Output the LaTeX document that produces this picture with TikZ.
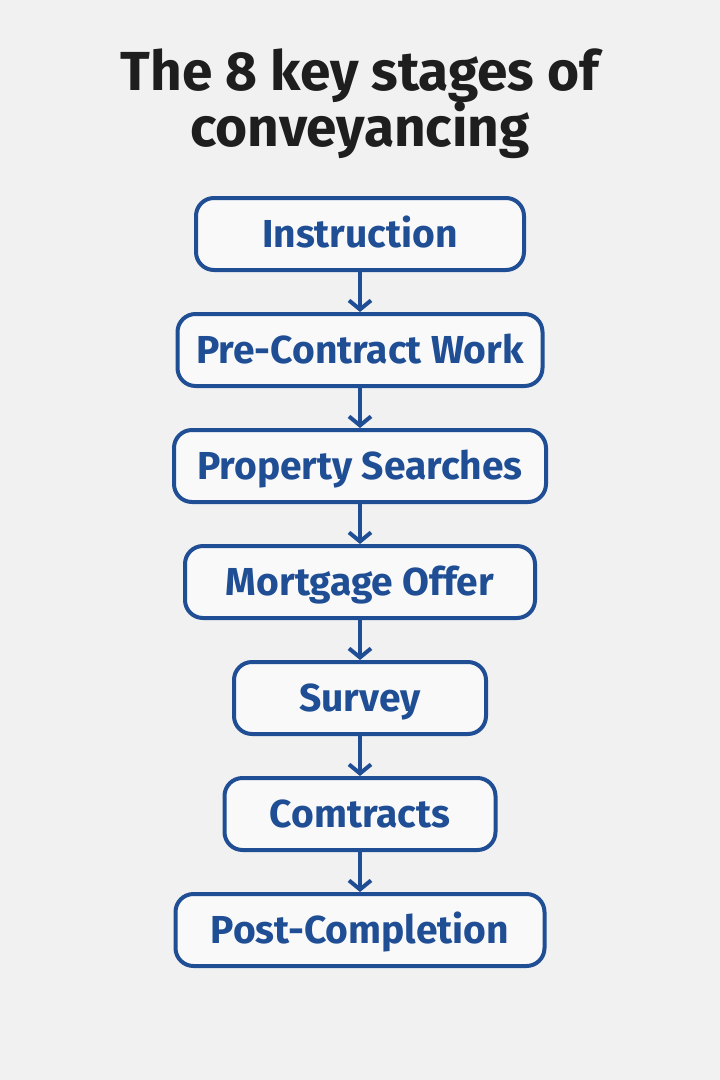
\documentclass[tikz,border=0pt]{standalone}
\usepackage{fontspec}
\setmainfont{Fira Sans}
\usepackage{tikz}
\usetikzlibrary{arrows.meta,positioning}

\definecolor{stageblue}{HTML}{1F4E95}
\definecolor{paper}{HTML}{F1F1F1}
\definecolor{ink}{HTML}{1E1E1E}

\tikzset{
  stage/.style={draw=stageblue, line width=4pt, rounded corners=18pt,
    fill=white!60!paper, text=stageblue, minimum height=72pt,
    text height=27pt, text depth=0pt,
    font=\fontsize{39}{43}\selectfont\bfseries},
  flow/.style={draw=stageblue, line width=4pt,
    -{Straight Barb[length=9pt,width=22pt,line width=4pt]}},
  heading/.style={text=ink, anchor=base, font=\fontsize{55}{60}\selectfont\bfseries}
}

\begin{document}
\begin{tikzpicture}[x=1pt,y=1pt,node distance=40pt]
  \useasboundingbox[fill=paper] (0,0) rectangle (720,-1080);
  % title
  \node[heading] (title1) at (360,-90) {The 8 key stages of};
  \node[heading] (title2) at (360,-146) {conveyancing};
  % stages
  \node[stage, minimum width=328pt] (instr) at (360,-234) {Instruction};
  \node[stage, minimum width=365pt, below=of instr] (precon) {Pre-Contract Work};
  \node[stage, minimum width=372pt, below=of precon] (search) {Property Searches};
  \node[stage, minimum width=350pt, below=of search] (mortg) {Mortgage Offer};
  \node[stage, minimum width=252pt, below=of mortg] (survey) {Survey};
  \node[stage, minimum width=271pt, below=of survey] (contr) {Comtracts};
  \node[stage, minimum width=369pt, below=of contr] (postc) {Post-Completion};
  % arrows
  \draw[flow] (instr) -- (precon);
  \draw[flow] (precon) -- (search);
  \draw[flow] (search) -- (mortg);
  \draw[flow] (mortg) -- (survey);
  \draw[flow] (survey) -- (contr);
  \draw[flow] (contr) -- (postc);
\end{tikzpicture}
\end{document}
